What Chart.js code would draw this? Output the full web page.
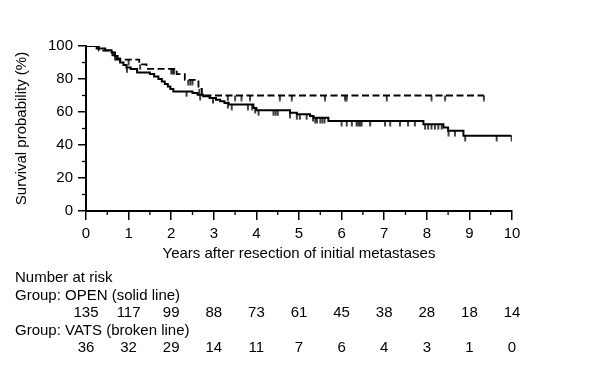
<!DOCTYPE html>
<html lang="en">

<head>
    <meta charset="UTF-8">
    <title>Survival by group</title>
    <style>
        body { margin: 0; background: #fff; }
    </style>
</head>

<body>
    <canvas id="kmChart" width="606" height="367"></canvas>

    <script src="https://cdn.jsdelivr.net/npm/chart.js@4.4.1/dist/chart.umd.min.js"></script>
    <script>
        // Kaplan-Meier steps (years, survival %)
        var openTimes = [0, 0.25, 0.45, 0.6, 0.68, 0.74, 0.8, 0.88, 0.95, 1.05, 1.2, 1.5, 1.6, 1.7, 1.78, 1.85, 1.92, 1.98, 2.05, 2.5, 2.62, 2.75, 2.9, 3.05, 3.15, 3.25, 3.35, 3.93, 4.0, 4.79, 4.95, 5.26, 5.34, 5.69, 7.92, 8.39, 8.5, 8.86, 9.99];
        var openSurv = [100, 98.5, 97.5, 96, 94, 92.5, 90, 88.5, 87, 86, 84, 83, 81.5, 80, 78.5, 77, 75.5, 74, 72.5, 71.5, 70.5, 69.5, 68.5, 67.5, 66.5, 65.5, 64.5, 62.5, 61, 59.6, 58.6, 57.6, 56.5, 54.6, 52.6, 50.6, 48.6, 45.6, 45.6];
        var openCensored = [0.96, 2.36, 2.68, 2.98, 3.33, 3.42, 3.8, 3.9, 3.97, 4.05, 4.4, 4.45, 4.5, 4.79, 4.95, 5.02, 5.18, 5.33, 5.38, 5.42, 5.5, 5.55, 5.6, 6.0, 6.12, 6.24, 6.35, 6.39, 6.43, 6.47, 6.67, 7.02, 7.14, 7.37, 7.56, 7.72, 7.96, 8.03, 8.11, 8.19, 8.27, 8.35, 8.51, 8.66, 8.9, 9.64, 9.99];

        var vatsTimes = [0, 0.3, 0.62, 0.72, 1.25, 1.42, 2.13, 2.32, 2.64, 2.72, 9.34];
        var vatsSurv = [100, 97.2, 94.4, 91.7, 88.9, 86.1, 83, 79.5, 74, 70, 70];
        var vatsCensored = [0.68, 1.0, 1.27, 2.0, 2.04, 2.07, 2.4, 2.45, 2.5, 2.66, 3.33, 3.5, 3.65, 3.85, 4.55, 4.83, 5.61, 6.08, 6.12, 7.06, 8.11, 8.43, 9.34];

        var riskYears = [0, 1, 2, 3, 4, 5, 6, 7, 8, 9, 10];
        var openAtRisk = [135, 117, 99, 88, 73, 61, 45, 38, 28, 18, 14];
        var vatsAtRisk = [36, 32, 29, 14, 11, 7, 6, 4, 3, 1, 0];

        var FONT = "'Liberation Sans', Arial, sans-serif";
        Chart.defaults.font.family = FONT;
        Chart.defaults.font.size = 15;
        Chart.defaults.color = '#000';

        function toPoints(times, surv) {
            return times.map(function (t, i) { return { x: t, y: surv[i] }; });
        }

        // survival value of the step curve at time t
        function survAt(times, surv, t) {
            var v = surv[0];
            for (var i = 0; i < times.length; i++) {
                if (times[i] <= t) v = surv[i];
            }
            return v;
        }

        function censorPoints(list, times, surv) {
            return list.map(function (t) { return { x: t, y: survAt(times, surv, t) }; });
        }

        // little tick hanging down from the curve
        function makeTick() {
            var c = document.createElement('canvas');
            c.width = 4;
            c.height = 12;
            var g = c.getContext('2d');
            g.fillStyle = '#000';
            g.fillRect(1.25, 6, 1.5, 5.5);
            return c;
        }
        var tickImg = makeTick();

        var extras = {
            id: 'extras',
            afterDraw: function (chart) {
                var ctx = chart.ctx;
                var xs = chart.scales.x;
                var ys = chart.scales.y;
                ctx.save();
                ctx.strokeStyle = '#000';
                ctx.lineWidth = 1.3;
                // minor ticks
                for (var v = 10; v < 100; v += 20) {
                    var py = ys.getPixelForValue(v);
                    ctx.beginPath();
                    ctx.moveTo(xs.left, py);
                    ctx.lineTo(xs.left - 4, py);
                    ctx.stroke();
                }
                for (var h = 0.5; h < 10; h += 1) {
                    var px = xs.getPixelForValue(h);
                    ctx.beginPath();
                    ctx.moveTo(px, ys.bottom);
                    ctx.lineTo(px, ys.bottom + 4);
                    ctx.stroke();
                }

                // number at risk table
                ctx.fillStyle = '#000';
                ctx.font = '15px ' + FONT;
                ctx.textBaseline = 'middle';
                ctx.textAlign = 'left';
                ctx.fillText('Number at risk', 15, 278);
                ctx.fillText('Group: OPEN (solid line)', 15, 295.5);
                ctx.fillText('Group: VATS (broken line)', 15, 330.5);
                ctx.textAlign = 'center';
                for (var i = 0; i < riskYears.length; i++) {
                    var x = xs.getPixelForValue(riskYears[i]);
                    ctx.fillText(String(openAtRisk[i]), x, 313);
                    ctx.fillText(String(vatsAtRisk[i]), x, 348);
                }
                ctx.restore();
            }
        };

        var ctx = document.getElementById('kmChart').getContext('2d');
        var kmChart = new Chart(ctx, {
            type: 'line',
            data: {
                datasets: [
                    {
                        label: 'OPEN',
                        data: toPoints(openTimes, openSurv),
                        stepped: true,
                        borderColor: '#000',
                        borderWidth: 2,
                        pointRadius: 0,
                        fill: false
                    },
                    {
                        label: 'VATS',
                        data: toPoints(vatsTimes, vatsSurv),
                        stepped: true,
                        borderColor: '#000',
                        borderWidth: 1.8,
                        borderDash: [7, 3.5],
                        pointRadius: 0,
                        fill: false
                    },
                    {
                        label: 'OPEN censored',
                        data: censorPoints(openCensored, openTimes, openSurv),
                        showLine: false,
                        pointStyle: tickImg,
                        pointRadius: 6
                    },
                    {
                        label: 'VATS censored',
                        data: censorPoints(vatsCensored, vatsTimes, vatsSurv),
                        showLine: false,
                        pointStyle: tickImg,
                        pointRadius: 6
                    }
                ]
            },
            options: {
                responsive: false,
                animation: false,
                layout: { padding: { top: 46, right: 94, bottom: 0, left: 0 } },
                plugins: {
                    legend: { display: false },
                    tooltip: { enabled: false }
                },
                scales: {
                    x: {
                        type: 'linear',
                        min: 0,
                        max: 10,
                        afterFit: function (s) { s.height = 156; },
                        border: { color: '#000', width: 2 },
                        grid: { drawOnChartArea: false, color: '#000', tickLength: 9, lineWidth: 1.5 },
                        ticks: { stepSize: 1, padding: 5, color: '#000' },
                        title: {
                            display: true,
                            text: 'Years after resection of initial metastases',
                            color: '#000',
                            padding: { top: 0, bottom: 104 }
                        }
                    },
                    y: {
                        min: 0,
                        max: 100,
                        afterFit: function (s) { s.width = 86; },
                        border: { color: '#000', width: 2 },
                        grid: { drawOnChartArea: false, color: '#000', tickLength: 8, lineWidth: 1.5 },
                        ticks: { stepSize: 20, padding: 5, color: '#000' },
                        title: {
                            display: true,
                            text: 'Survival probability (%)',
                            color: '#000',
                            padding: { top: 13, bottom: 0 }
                        }
                    }
                }
            },
            plugins: [extras]
        });
    </script>
</body>

</html>
